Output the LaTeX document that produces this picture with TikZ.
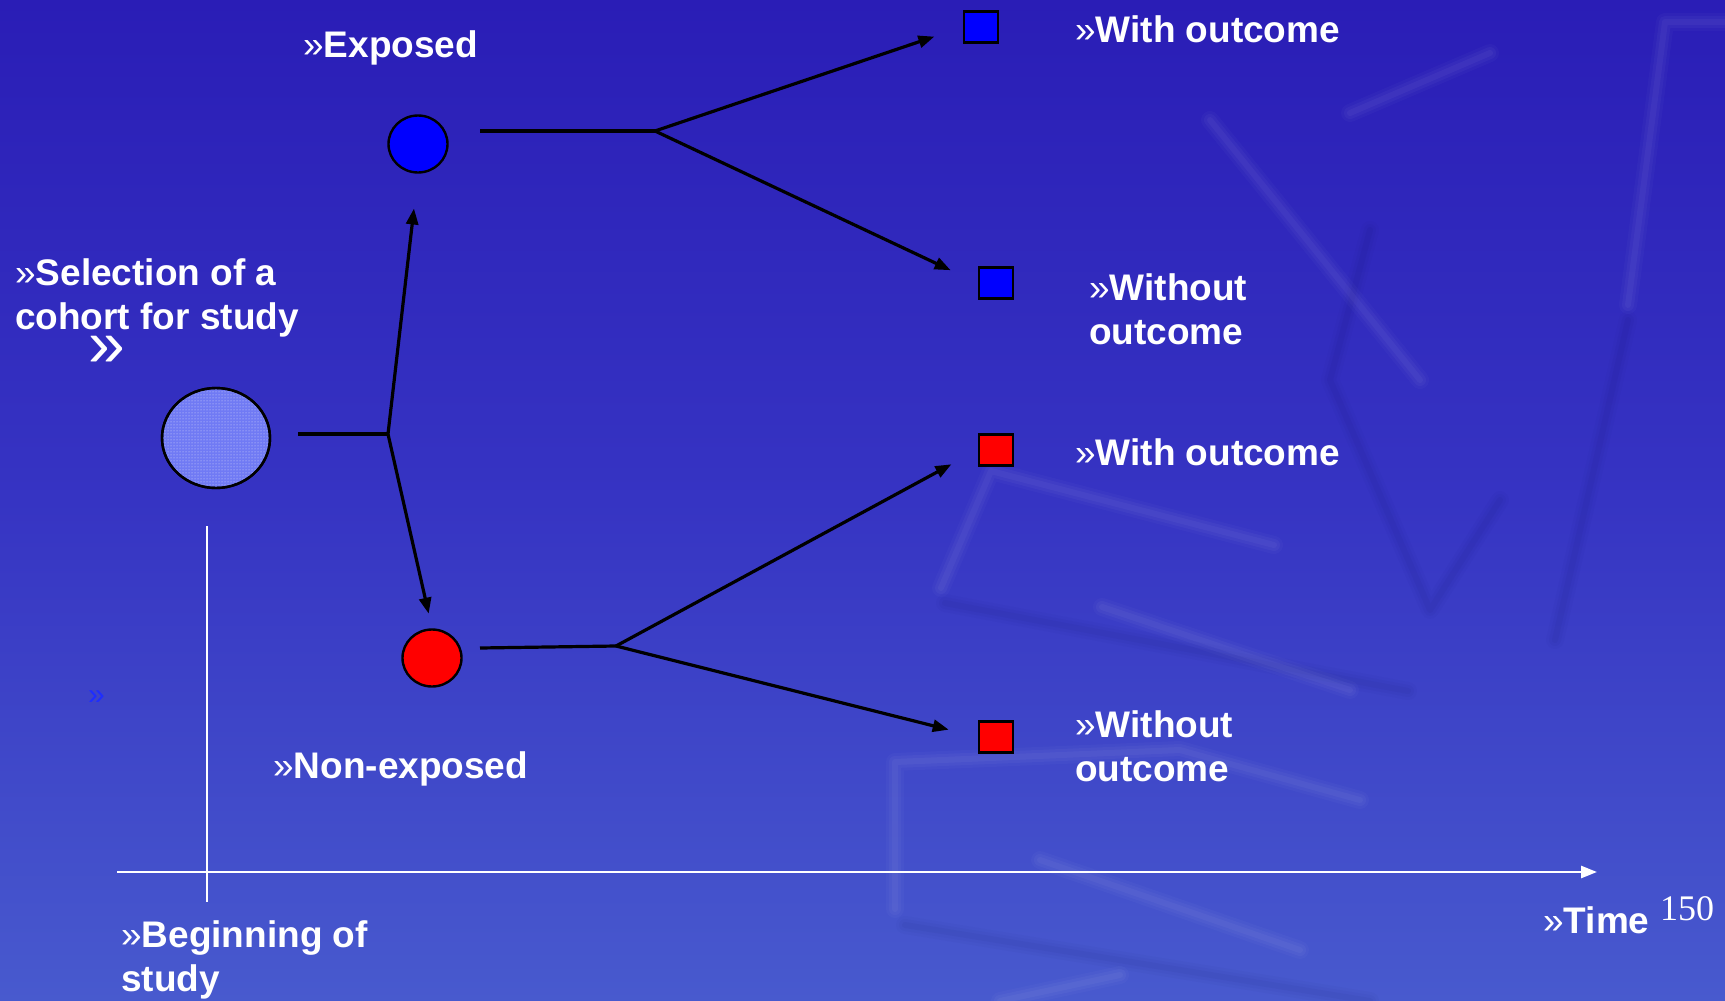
\documentclass[tikz,border=0pt]{standalone}
\usepackage{fontspec}
\setmainfont{Liberation Sans}
\newfontfamily\serifnum{Liberation Serif}
\usetikzlibrary{arrows.meta,shapes.geometric,patterns}

\definecolor{bgtop}{RGB}{42,29,182}
\definecolor{bgmid}{RGB}{54,52,195}
\definecolor{bgbot}{RGB}{72,90,206}
\definecolor{expblue}{RGB}{0,0,255}
\definecolor{nonred}{RGB}{255,0,0}
\definecolor{cohortfill}{RGB}{112,122,244}
\definecolor{tinyblue}{RGB}{30,45,255}

\newcommand\lblfont{\fontsize{37}{44}\selectfont\bfseries}
\newcommand\gq{{\mdseries »}}

\tikzset{
  lbl/.style={anchor=base west, inner sep=0pt, text=white, font=\lblfont, align=left},
  grp/.style={ellipse, draw=black, line width=2.4pt, inner sep=0pt},
  outbox/.style={rectangle, draw=black, line width=2.4pt, minimum width=34pt, minimum height=31pt, inner sep=0pt},
  link/.style={draw=black, line width=3.2pt},
  arr/.style={link, -{Triangle[length=16pt,width=12pt]}},
  axis/.style={draw=white, line width=2.6pt},
  glow/.style={draw=white, opacity=0.035, line width=6pt, line cap=round, line join=round,
    preaction={draw=white, opacity=0.03, line width=12pt, line cap=round, line join=round},
    preaction={draw=white, opacity=0.025, line width=18pt, line cap=round, line join=round}},
  dimstroke/.style={draw=black!80!blue, opacity=0.03, line width=6pt, line cap=round, line join=round,
    preaction={draw=black!80!blue, opacity=0.025, line width=12pt, line cap=round, line join=round},
    preaction={draw=black!80!blue, opacity=0.02, line width=18pt, line cap=round, line join=round}}
}

\begin{document}
\begin{tikzpicture}[x=1pt, y=-1pt]
  \useasboundingbox (0,0) rectangle (1725,1001);

  % backdrop: vertical gradient with faint embossed strokes
  \shade[top color=bgtop, bottom color=bgbot, middle color=bgmid] (0,0) rectangle (1725,1001);
  \draw[glow] (1350,113) -- (1490,53);
  \draw[glow] (1735,22) -- (1665,22) -- (1628,305);
  \draw[dimstroke] (1628,320) -- (1555,640);
  \draw[dimstroke] (1370,230) -- (1330,380) -- (1430,610) -- (1500,500);
  \draw[glow] (1210,120) -- (1420,380);
  \draw[glow] (1274,545) -- (991,471) -- (941,588);
  \draw[dimstroke] (945,603) -- (1408,691);
  \draw[glow] (1102,607) -- (1350,690);
  \draw[glow] (895,909) -- (895,762) -- (1180,750) -- (1360,800);
  \draw[dimstroke] (905,925) -- (1370,1001);
  \draw[glow] (1040,860) -- (1300,950);
  \draw[glow] (1000,1001) -- (1120,975);

  % time axis and study start
  \coordinate (ax0) at (117,872);
  \coordinate (ax1) at (1597,872);
  \coordinate (st0) at (207,526);
  \coordinate (st1) at (207,902);
  \draw[axis, -{Triangle[length=16pt,width=12pt]}] (ax0) -- (ax1);
  \draw[draw=white, line width=2.2pt] (st0) -- (st1);

  % groups; the cohort is a hatched disc
  \node[grp, minimum width=108pt, minimum height=100pt, fill=cohortfill] (cohort) at (216,438) {};
  \fill[pattern=dots, pattern color=white, opacity=0.75] (216,438) ellipse [x radius=53pt, y radius=49pt];
  \draw[black, line width=2.4pt] (216,438) ellipse [x radius=54pt, y radius=50pt];
  \node[grp, minimum width=59pt, minimum height=57pt, fill=expblue] (exp) at (418,144) {};
  \node[grp, minimum width=59pt, minimum height=57pt, fill=nonred] (non) at (432,658) {};

  % outcome boxes
  \node[outbox, fill=expblue] (eo1) at (981,27) {};
  \node[outbox, fill=expblue] (eo2) at (996,283) {};
  \node[outbox, fill=nonred] (no1) at (996,450) {};
  \node[outbox, fill=nonred] (no2) at (996,737) {};

  % branching connectors
  \coordinate (c0) at (298,434);
  \coordinate (cj) at (388,434);
  \coordinate (e0) at (480,131);
  \coordinate (ej) at (655,131);
  \coordinate (n0) at (480,648);
  \coordinate (nj) at (616,646);
  \draw[link] (c0) -- (cj);
  \draw[arr, shorten >=35pt] (cj) -- (exp.south);
  \draw[arr, shorten >=15pt] (cj) -- (non.north);
  \draw[link] (e0) -- (ej);
  \draw[arr, shorten >=30pt] (ej) -- (eo1.west);
  \draw[arr, shorten >=30pt] (ej) -- (eo2.west);
  \draw[link] (n0) -- (nj);
  \draw[arr, shorten >=30pt] (nj) -- (no1.west);
  \draw[arr, shorten >=30pt] (nj) -- (no2.west);

  % labels (multi-line ones sit on the baseline of their last line)
  \node[lbl] (lexp) at (303,57) {\gq Exposed};
  \node[lbl] (lnon) at (273,778) {\gq Non-exposed};
  \node[lbl] (lsel) at (15,329) {\gq Selection of a\\cohort for study};
  \node[lbl] (lw1) at (1075,42) {\gq With outcome};
  \node[lbl] (lwo1) at (1089,344) {\gq Without\\outcome};
  \node[lbl] (lw2) at (1075,465) {\gq With outcome};
  \node[lbl] (lwo2) at (1075,781) {\gq Without\\outcome};
  \node[lbl] (lbeg) at (121,991) {\gq Beginning of\\study};
  \node[lbl] (ltime) at (1543,933) {\gq Time};
  \node[anchor=base west, inner sep=0pt, text=white, font=\fontsize{66}{66}\selectfont] (bigq) at (88,366) {»};
  \node[anchor=base west, inner sep=0pt, text=tinyblue, font=\fontsize{30}{30}\selectfont] (smallq) at (88,704) {»};
  \node[anchor=base west, inner sep=0pt, text=white, font=\serifnum\fontsize{36}{36}\selectfont] (pg) at (1660,920) {150};
\end{tikzpicture}
\end{document}
